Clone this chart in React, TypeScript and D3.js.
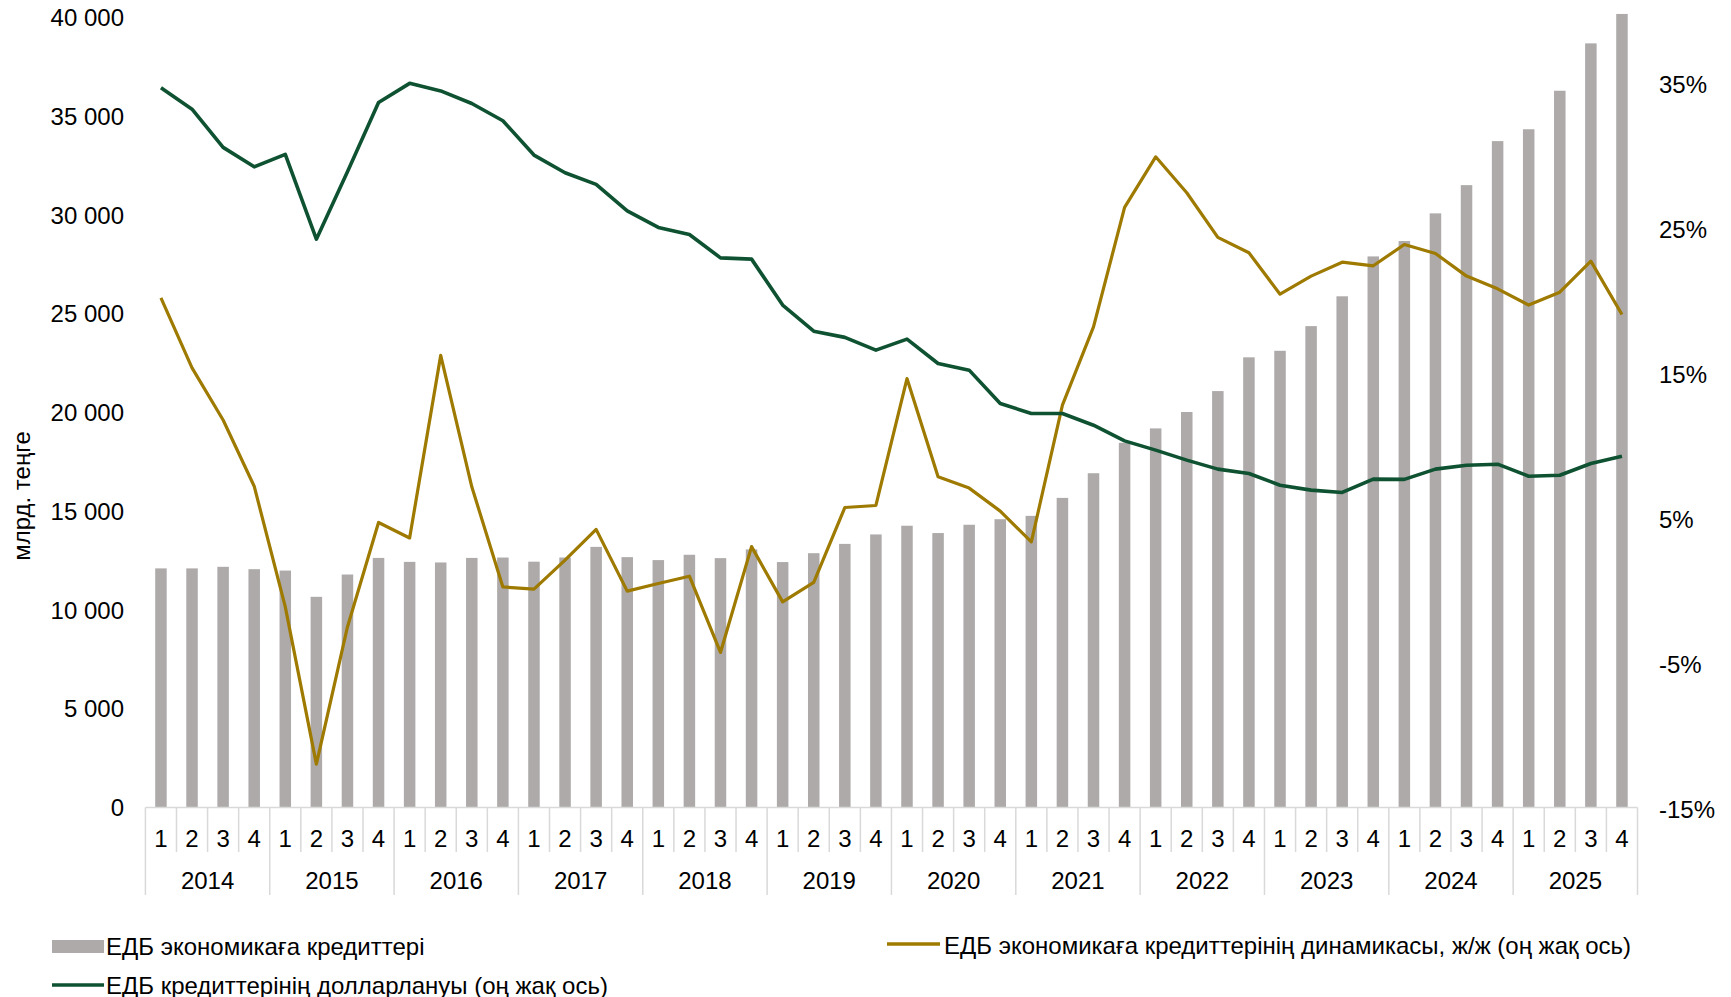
import React from "react";
import * as d3 from "d3";

const years = ["2014", "2015", "2016", "2017", "2018", "2019", "2020", "2021", "2022", "2023", "2024", "2025"];
const quarters = ["1", "2", "3", "4"];

// ЕДБ экономикаға кредиттері, млрд. теңге
const loans = [
  12110, 12110, 12190, 12070,
  12000, 10670, 11800, 12640,
  12440, 12410, 12640, 12660,
  12450, 12660, 13200, 12680,
  12530, 12800, 12630, 13070,
  12430, 12880, 13350, 13830,
  14270, 13900, 14320, 14600,
  14770, 15680, 16930, 18470,
  19200, 20030, 21090, 22800,
  23130, 24380, 25890, 27910,
  28690, 30090, 31520, 33750,
  34350, 36300, 38700, 40190,
];

// ЕДБ экономикаға кредиттерінің динамикасы, ж/ж, %
const growth = [
  20.17, 15.34, 11.74, 7.17,
  -1.16, -12.01, -2.54, 4.67,
  3.6, 16.2, 7.13, 0.22,
  0.07, 2.07, 4.19, -0.07,
  0.46, 0.96, -4.3, 3.0,
  -0.81, 0.53, 5.7, 5.84,
  14.6, 7.82, 7.04, 5.45,
  3.33, 12.76, 18.17, 26.41,
  29.9, 27.42, 24.34, 23.28,
  20.42, 21.67, 22.63, 22.38,
  23.85, 23.23, 21.67, 20.79,
  19.67, 20.56, 22.7, 19.02,
];

// ЕДБ кредиттерінің долларлануы, %
const dollarization = [
  34.66, 33.19, 30.55, 29.21,
  30.07, 24.22, 28.87, 33.65,
  34.97, 34.45, 33.58, 32.39,
  30.02, 28.8, 28.0, 26.17,
  25.03, 24.54, 22.93, 22.84,
  19.67, 17.87, 17.44, 16.56,
  17.32, 15.64, 15.18, 12.88,
  12.19, 12.19, 11.38, 10.3,
  9.66, 8.97, 8.35, 8.05,
  7.24, 6.9, 6.74, 7.66,
  7.64, 8.35, 8.62, 8.69,
  7.86, 7.93, 8.74, 9.24,
];

const leftTicks = [0, 5000, 10000, 15000, 20000, 25000, 30000, 35000, 40000];
const rightTicks = [-15, -5, 5, 15, 25, 35];

const legendLabels = [
  "ЕДБ экономикаға кредиттері",
  "ЕДБ экономикаға кредиттерінің динамикасы, ж/ж (оң жақ ось)",
  "ЕДБ кредиттерінің долларлануы (оң жақ ось)",
];

const W = 1731;
const H = 997;
const FONT = "'Liberation Sans', Arial, sans-serif";
const FS = 24;
const BAR = "#AEAAAA";
const GOLD = "#9E7A00";
const GREEN = "#0E5232";
const AXIS = "#D9D9D9";

export default function App() {
  const x0 = 145.4;
  const x1 = 1637.5;
  const yBase = 807.5;
  const yTop = 17.7;

  const cats = years.flatMap((y) => quarters.map((q) => `${y}-${q}`));
  const x = d3.scaleBand<string>().domain(cats).range([x0, x1]).paddingInner(0).paddingOuter(0);
  const yL = d3.scaleLinear().domain([0, 40000]).range([yBase, yTop]);
  const yR = d3.scaleLinear().domain([-15, 39.5]).range([yBase, yTop]);

  const bw = x.bandwidth();
  const barW = bw * 0.37;
  const cx = (i: number) => (x(cats[i]) as number) + bw / 2;

  const lineGen = d3
    .line<number>()
    .x((_, i) => cx(i))
    .y((d) => yR(d));

  const fmt = (v: number) => d3.format(",")(v).replace(/,/g, " ");

  return (
    <svg
      width={W}
      height={H}
      style={{ position: "absolute", left: 0, top: 0, background: "#fff" }}
      fontFamily={FONT}
    >
      <rect x={0} y={0} width={W} height={H} fill="#fff" />
      {/* bars */}
      {loans.map((v, i) => (
        <rect key={i} x={cx(i) - barW / 2} y={yL(v)} width={barW} height={yBase - yL(v)} fill={BAR} />
      ))}
      {/* lines */}
      <path d={lineGen(growth) || ""} fill="none" stroke={GOLD} strokeWidth={3.2} strokeLinejoin="round" />
      <path d={lineGen(dollarization) || ""} fill="none" stroke={GREEN} strokeWidth={3.6} strokeLinejoin="round" />

      {/* x axis */}
      <line x1={x0} x2={x1} y1={yBase} y2={yBase} stroke={AXIS} strokeWidth={1.5} />
      {cats.map((c, i) => {
        const xb = x(c) as number;
        const isYear = i % 4 === 0;
        return <line key={c} x1={xb} x2={xb} y1={yBase} y2={isYear ? 895 : 852} stroke={AXIS} strokeWidth={1.5} />;
      })}
      <line x1={x1} x2={x1} y1={yBase} y2={895} stroke={AXIS} strokeWidth={1.5} />
      {cats.map((c, i) => (
        <text key={"q" + c} x={cx(i)} y={838} textAnchor="middle" dominantBaseline="central" fontSize={FS} fill="#000">
          {quarters[i % 4]}
        </text>
      ))}
      {years.map((y) => {
        const xs = x(`${y}-1`) as number;
        return (
          <text key={y} x={xs + bw * 2} y={880} textAnchor="middle" dominantBaseline="central" fontSize={FS} fill="#000">
            {y}
          </text>
        );
      })}

      {/* left axis labels */}
      {leftTicks.map((t) => (
        <text key={t} x={124} y={yL(t)} textAnchor="end" dominantBaseline="central" fontSize={FS} fill="#000">
          {fmt(t)}
        </text>
      ))}
      <text
        transform={`translate(21,496) rotate(-90)`}
        textAnchor="middle"
        dominantBaseline="central"
        fontSize={FS}
        fill="#000"
      >
        млрд. теңге
      </text>

      {/* right axis labels */}
      {rightTicks.map((t) => (
        <text key={t} x={1659} y={yR(t) + 2} textAnchor="start" dominantBaseline="central" fontSize={FS} fill="#000">
          {`${t}%`}
        </text>
      ))}

      {/* legend */}
      <rect x={52} y={940} width={52} height={13} fill={BAR} />
      <text x={106} y={946} dominantBaseline="central" fontSize={FS} fill="#000">
        {legendLabels[0]}
      </text>
      <line x1={887} x2={940} y1={944} y2={944} stroke={GOLD} strokeWidth={3.5} />
      <text x={944} y={945} dominantBaseline="central" fontSize={FS} fill="#000">
        {legendLabels[1]}
      </text>
      <line x1={52} x2={104} y1={985} y2={985} stroke={GREEN} strokeWidth={3.5} />
      <text x={106} y={985} dominantBaseline="central" fontSize={FS} fill="#000">
        {legendLabels[2]}
      </text>
    </svg>
  );
}
